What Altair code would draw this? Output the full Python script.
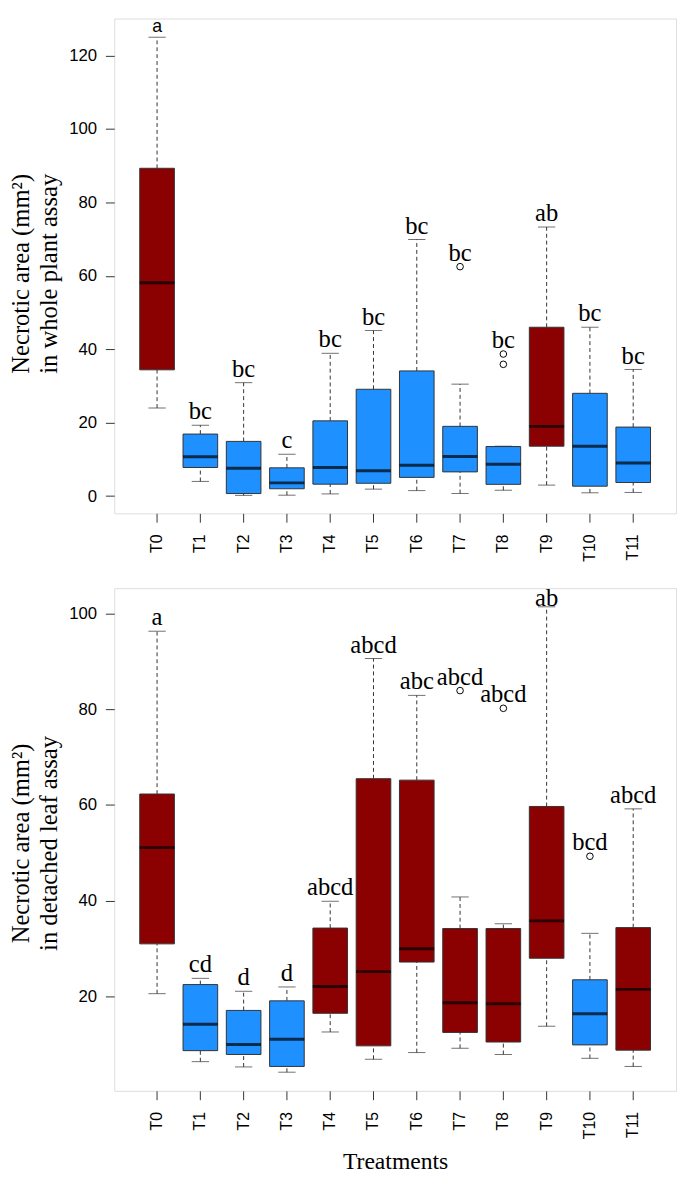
import altair as alt
import pandas as pd

cats = ["T0", "T1", "T2", "T3", "T4", "T5", "T6", "T7", "T8", "T9", "T10", "T11"]

# ---- whole plant assay (top panel) ----
wp_lower = [24.0, 4.0, 0.2, 0.25, 0.6, 1.9, 1.5, 0.7, 1.6, 3.0, 0.9, 1.0]
wp_q1 = [34.4, 7.8, 0.7, 2.0, 3.25, 3.5, 5.1, 6.6, 3.2, 13.6, 2.7, 3.7]
wp_med = [58.1, 10.7, 7.6, 3.6, 7.8, 6.9, 8.4, 10.8, 8.7, 19.0, 13.6, 9.0]
wp_q3 = [89.3, 16.9, 14.9, 7.7, 20.5, 29.1, 34.1, 19.0, 13.5, 46.0, 28.0, 18.8]
wp_upper = [125.0, 19.3, 30.9, 11.4, 38.9, 45.1, 69.9, 30.5, 13.6, 73.3, 46.0, 34.5]
wp_out_cat = ["T7", "T8", "T8"]
wp_out_val = [62.5, 38.7, 35.9]
wp_letters = ["a", "bc", "bc", "c", "bc", "bc", "bc", "bc", "bc", "ab", "bc", "bc"]
wp_group = ["high", "low", "low", "low", "low", "low", "low", "low", "low", "high", "low", "low"]
wp_sans = [True] + [False] * 11

# ---- detached leaf assay (bottom panel) ----
dl_lower = [20.6, 6.4, 5.3, 4.2, 12.6, 6.9, 8.3, 9.2, 7.9, 13.8, 7.1, 5.4]
dl_q1 = [31.0, 8.7, 7.9, 5.4, 16.5, 9.7, 27.2, 12.5, 10.5, 28.0, 9.9, 8.8]
dl_med = [51.1, 14.2, 10.0, 11.1, 22.1, 25.2, 30.0, 18.7, 18.5, 35.8, 16.4, 21.5]
dl_q3 = [62.3, 22.5, 17.1, 19.1, 34.3, 65.5, 65.2, 34.2, 34.2, 59.7, 23.5, 34.4]
dl_upper = [96.3, 23.8, 21.1, 22.0, 39.9, 90.6, 82.9, 40.8, 35.2, 101.4, 33.2, 59.2]
dl_out_cat = ["T7", "T8", "T10"]
dl_out_val = [83.9, 80.2, 49.3]
dl_letters = ["a", "cd", "d", "d", "abcd", "abcd", "abc", "abcd", "abcd", "ab", "bcd", "abcd"]
dl_group = ["high", "low", "low", "low", "high", "high", "high", "high", "high", "high", "low", "high"]
dl_sans = [False] * 12

RED = "#8B0000"
BLUE = "#1E90FF"
SERIF = "Liberation Serif"
SANS = "Liberation Sans"
W = 571


def panel(lower, q1, med, q3, upper, out_cat, out_val, letters, group, sans,
          ydom, yvals, ytitle, height, xtitle):
    lab_y = []
    for c, u in zip(cats, upper):
        vals = [v for oc, v in zip(out_cat, out_val) if oc == c]
        lab_y.append(max([u] + vals))
    df = pd.DataFrame({"cat": cats, "lower": lower, "q1": q1, "med": med, "q3": q3,
                       "upper": upper, "letter": letters, "group": group,
                       "sans": sans, "laby": lab_y})
    od = pd.DataFrame({"cat": out_cat, "val": out_val})
    lab_cap = ydom[1] - 4.9

    xaxis = alt.Axis(labelAngle=270, labelFont=SANS, labelFontSize=16, labelColor="black",
                     labelPadding=12, tickSize=9, tickColor="#333", domain=False,
                     labelOverlap=False, title=xtitle, titleFont=SERIF, titleFontSize=24,
                     titleFontWeight="normal", titleColor="black", titleY=79,
                     titleBaseline="alphabetic")
    x = alt.X("cat:N", sort=cats,
              scale=alt.Scale(domain=cats, paddingInner=0.2, paddingOuter=0.589),
              axis=xaxis)
    yscale = alt.Scale(domain=ydom, nice=False, zero=False)
    yaxis = alt.Axis(values=yvals, labelFont=SANS, labelFontSize=17, labelColor="black",
                     labelPadding=9, tickSize=9, tickColor="#333", domain=False, grid=False,
                     title=ytitle, titleFont=SERIF, titleFontSize=25, titleFontWeight="normal",
                     titleColor="black", titleAngle=270, titleX=-87, titleY=259,
                     titleAlign="center", titleBaseline="alphabetic", titleLineHeight=28)

    def Y(f):
        return alt.Y(f, type="quantitative", scale=yscale, axis=yaxis)

    base = alt.Chart(df)
    w1 = base.mark_rule(color="#333", strokeWidth=1, strokeDash=[4, 3]).encode(
        x=x, y=Y("lower"), y2="q1")
    w2 = base.mark_rule(color="#333", strokeWidth=1, strokeDash=[4, 3]).encode(
        x=x, y=Y("q3"), y2="upper")
    c1 = base.mark_tick(color="#333", size=17.6, thickness=1).encode(x=x, y=Y("lower"))
    c2 = base.mark_tick(color="#333", size=17.6, thickness=1).encode(x=x, y=Y("upper"))
    box = base.mark_bar(stroke="#333", strokeWidth=1, opacity=1).encode(
        x=x, y=Y("q1"), y2="q3",
        color=alt.Color("group:N", scale=alt.Scale(domain=["high", "low"], range=[RED, BLUE]),
                        legend=None))
    md = base.mark_tick(color="black", size=35.2, thickness=3).encode(x=x, y=Y("med"))
    pts = alt.Chart(od).mark_point(shape="circle", filled=False, color="black", size=45,
                                   strokeWidth=1, opacity=1, clip=True).encode(x=x, y=Y("val"))
    lab = base.transform_calculate(labpos=f"min(datum.laby, {lab_cap})")
    t_serif = lab.transform_filter("!datum.sans").mark_text(
        font=SERIF, fontSize=25, color="black", dy=-6, baseline="alphabetic", clip=True).encode(
        x=x, y=Y("labpos:Q"), text="letter:N")
    t_sans = lab.transform_filter("datum.sans").mark_text(
        font=SANS, fontSize=18, color="black", dy=-5, baseline="alphabetic", clip=True).encode(
        x=x, y=Y("labpos:Q"), text="letter:N")
    return alt.layer(w1, w2, c1, c2, box, md, pts, t_serif, t_sans).properties(
        width=W, height=height)


top = panel(wp_lower, wp_q1, wp_med, wp_q3, wp_upper, wp_out_cat, wp_out_val, wp_letters,
            wp_group, wp_sans, [-4.7, 130.1], [0, 20, 40, 60, 80, 100, 120],
            ["Necrotic area (mm²)", "in whole plant assay"], 503, None)
bottom = panel(dl_lower, dl_q1, dl_med, dl_q3, dl_upper, dl_out_cat, dl_out_val, dl_letters,
               dl_group, dl_sans, [0.3, 105.3], [20, 40, 60, 80, 100],
               ["Necrotic area (mm²)", "in  detached leaf assay"], 511, "Treatments")

chart = alt.vconcat(top, bottom, spacing=25).properties(
    padding={"left": 0, "top": 0, "right": 0, "bottom": 0}
).configure_view(stroke="#333", strokeWidth=1).configure(background="white")

chart.save("out.html", embed_options={"renderer": "svg", "actions": False})
